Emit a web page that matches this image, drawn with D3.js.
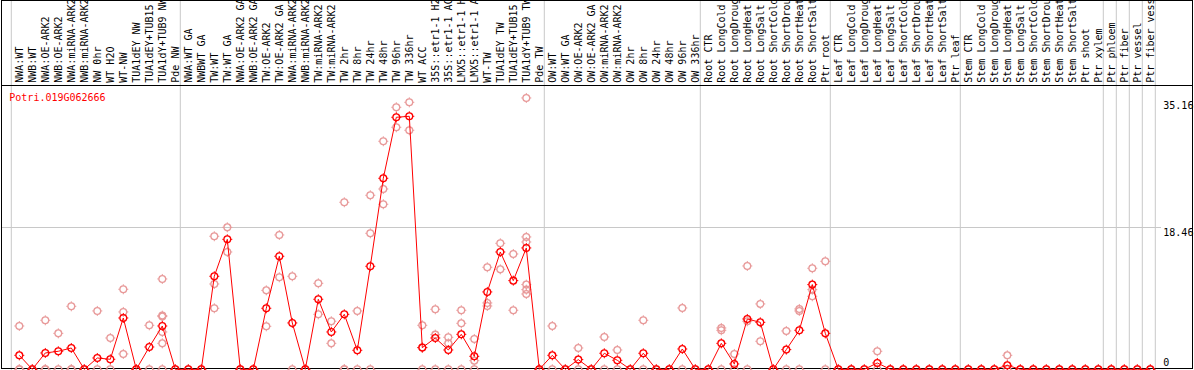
<!DOCTYPE html>
<html>
<head>
<meta charset="utf-8">
<script src="https://cdn.jsdelivr.net/npm/d3@7"></script>
<style>
  body { margin: 0; background: #fff; }
  svg { display: block; }
</style>
</head>
<body>
<div id="chart"></div>
<script>
const gene = "Potri.019G062666";

const labels = [
  "NWA:WT", "NWB:WT", "NWA:OE-ARK2", "NWB:OE-ARK2", "NWA:miRNA-ARK2", "NWB:miRNA-ARK2",
  "NW 0hr", "WT H2O", "WT-NW", "TUA1dEY NW", "TUA1dEY+TUB15 NW", "TUA1dY+TUB9 NW", "Pde NW",
  "NWA:WT GA", "NWBWT GA", "TW:WT", "TW:WT GA", "NWA:OE-ARK2 GA", "NWB:OE-ARK2 GA",
  "TW:OE-ARK2", "TW:OE-ARK2 GA", "NWA:miRNA-ARK2 GA", "NWB:miRNA-ARK2 GA", "TW:miRNA-ARK2",
  "TW:miRNA-ARK2 GA", "TW 2hr", "TW 8hr", "TW 24hr", "TW 48hr", "TW 96hr", "TW 336hr",
  "WT ACC", "35S::etr1-1 H2O", "35S::etr1-1 ACC", "LMX5::etr1-1 H2O", "LMX5::etr1-1 ACC",
  "WT-TW", "TUA1dEY TW", "TUA1dEY+TUB15 TW", "TUA1dY+TUB9 TW", "Pde TW",
  "OW:WT", "OW:WT GA", "OW:OE-ARK2", "OW:OE-ARK2 GA", "OW:miRNA-ARK2", "OW:miRNA-ARK2 GA",
  "OW 2hr", "OW 8hr", "OW 24hr", "OW 48hr", "OW 96hr", "OW 336hr",
  "Root CTR", "Root LongCold", "Root LongDrought", "Root LongHeat", "Root LongSalt",
  "Root ShortCold", "Root ShortDrought", "Root ShortHeat", "Root ShortSalt", "Ptr root",
  "Leaf CTR", "Leaf LongCold", "Leaf LongDrought", "Leaf LongHeat", "Leaf LongSalt",
  "Leaf ShortCold", "Leaf ShortDrought", "Leaf ShortHeat", "Leaf ShortSalt", "Ptr leaf",
  "Stem CTR", "Stem LongCold", "Stem LongDrought", "Stem LongHeat", "Stem LongSalt",
  "Stem ShortCold", "Stem ShortDrought", "Stem ShortHeat", "Stem ShortSalt", "Ptr shoot",
  "Ptr xylem", "Ptr phloem", "Ptr fiber", "Ptr vessel", "Ptr fiber vessel"
];

// number of samples in each experiment block (separated by grey lines)
const groupSizes = [13, 28, 12, 10, 10, 11, 1, 1, 1, 1];

const means = [
  1.83, 0, 2.14, 2.36, 2.79, 0, 1.48, 1.31, 6.72, 0, 2.92, 5.67, 0,
  0, 0, 12.18, 17.02, 0, 0, 7.99, 14.80, 6.07, 0, 9.17, 4.89, 7.20, 2.49, 13.49, 25.01,
  33.0, 33.13, 2.84, 4.10, 2.53, 4.58, 1.70, 10.13, 15.36, 11.61, 15.89, 0,
  1.83, 0, 1.27, 0, 2.10, 1.18, 0, 2.10, 0, 0, 2.66, 0,
  0, 3.40, 0.70, 6.59, 6.15, 0, 2.58, 5.11, 11.09, 4.71,
  0, 0, 0, 0.83, 0, 0, 0, 0, 0, 0,
  0, 0, 0, 0.52, 0, 0, 0, 0, 0, 0, 0,
  0, 0, 0, 0
];

const replicates = [
  [5.67, 0, 0], [0, 0], [6.42, 0, 0], [4.71, 0], [8.25, 0, 0], [0, 0], [7.64, 0], [4.10, 0],
  [10.48, 7.51, 2.01], [0, 0], [5.76, 0], [11.83, 7.03, 6.90, 4.89, 3.40, 0], [0],
  [0], [0], [17.42, 11.17, 7.99], [18.59, 15.36], [0], [0], [10.34, 5.63], [17.59, 12.05],
  [12.18, 0], [0], [11.26, 7.20], [6.29, 3.40], [21.87, 0, 0], [7.64, 0], [22.79, 17.81, 0],
  [29.86, 23.61, 21.61], [34.31, 31.69], [34.96, 31.30], [5.76, 2.84, 0], [7.86, 4.54, 0],
  [4.19, 3.40, 0], [7.73, 6.02, 0], [3.97, 1.13, 0], [13.36, 8.69, 8.29], [16.50, 13.09],
  [15.10, 7.73], [35.53, 17.33, 16.67, 11.09, 10.43, 9.86], [0],
  [5.67, 0], [0], [2.79, 0], [0], [4.23, 0], [2.53, 0], [0], [6.42, 0], [0], [0], [8.03, 0], [0],
  [0], [5.41, 5.11, 0], [2.01, 0], [13.53, 6.29, 0], [8.56, 3.67], [0], [5.02, 0],
  [7.90, 7.64, 0], [13.23, 10.43, 9.56], [14.14, 0],
  [0], [0], [0], [2.36, 0], [0], [0], [0], [0], [0], [0],
  [0], [0], [0], [1.83, 0], [0], [0], [0], [0], [0], [0], [0],
  [0], [0], [0], [0]
];

const yTicks = [0, 18.46, 35.16];
const gridTicks = [18.46];

const w = 1194;
const h = 370;
const labelBottom = 85;

const svg = d3.select("#chart")
  .append("svg")
  .attr("width", w)
  .attr("height", h)
  .style("font-family", "'DejaVu Sans Mono', monospace")
  .style("font-size", "10px");

const xBand = d3.scaleBand()
  .domain(d3.range(labels.length))
  .range([11.3, 11.3 + labels.length * 13])
  .paddingInner(0)
  .paddingOuter(0);
const cx = i => xBand(i) + 8;

const yScale = d3.scaleLinear()
  .domain([0, 37.2])
  .range([369.3, 85.2]);

// block separators
let edges = [0];
groupSizes.forEach(s => edges.push(edges[edges.length - 1] + s));
svg.append("g")
  .selectAll("line")
  .data(edges)
  .enter()
  .append("line")
  .attr("x1", d => (d < labels.length ? xBand(d) : xBand(labels.length - 1) + 13))
  .attr("x2", d => (d < labels.length ? xBand(d) : xBand(labels.length - 1) + 13))
  .attr("y1", 0)
  .attr("y2", h)
  .attr("stroke", "#c8c8c8")
  .attr("stroke-width", 1);

// horizontal grid
svg.append("g")
  .selectAll("line")
  .data(gridTicks)
  .enter()
  .append("line")
  .attr("x1", 1)
  .attr("x2", 1161)
  .attr("y1", d => Math.round(yScale(d)) - 0.5)
  .attr("y2", d => Math.round(yScale(d)) - 0.5)
  .attr("stroke", "#c8c8c8")
  .attr("stroke-width", 1);

// frame
svg.append("rect")
  .attr("x", 1.5)
  .attr("y", 0.5)
  .attr("width", 1191)
  .attr("height", 368)
  .attr("fill", "none")
  .attr("stroke", "#000")
  .attr("stroke-width", 1);
svg.append("line")
  .attr("x1", 1).attr("x2", 1193)
  .attr("y1", labelBottom + 0.5).attr("y2", labelBottom + 0.5)
  .attr("stroke", "#000");

// sample labels
svg.append("g")
  .selectAll("text")
  .data(labels)
  .enter()
  .append("text")
  .attr("transform", (d, i) => "translate(" + (cx(i) + 3.5) + "," + 82.7 + ") rotate(-90)")
  .attr("fill", "#000")
  .text(d => d);

// y labels
svg.append("g")
  .selectAll("text")
  .data(yTicks)
  .enter()
  .append("text")
  .attr("x", 1163.3)
  .attr("y", d => Math.min(yScale(d) + 8, yScale(0) - 3))
  .attr("fill", "#000")
  .text(d => d);

svg.append("text")
  .attr("x", 9.3)
  .attr("y", 101)
  .attr("fill", "#ff0000")
  .text(gene);

function marker(g, color) {
  const r = 3.4;
  g.append("circle")
    .attr("r", r)
    .attr("fill", "none")
    .attr("stroke", color)
    .attr("stroke-width", 1.3);
  [[0, -1], [0, 1], [-1, 0], [1, 0]].forEach(([dx, dy]) => {
    g.append("line")
      .attr("x1", dx * r).attr("y1", dy * r)
      .attr("x2", dx * (r + 1.6)).attr("y2", dy * (r + 1.6))
      .attr("stroke", color)
      .attr("stroke-width", 1);
  });
}

// replicate points
const repPoints = [];
replicates.forEach((arr, i) => arr.forEach(v => repPoints.push({ i: i, v: v })));
svg.append("g")
  .selectAll("g")
  .data(repPoints)
  .enter()
  .append("g")
  .attr("transform", d => "translate(" + cx(d.i) + "," + yScale(d.v) + ")")
  .each(function () { marker(d3.select(this), "#e89a9a"); });

// mean line
const line = d3.line()
  .x((d, i) => cx(i))
  .y(d => yScale(d));
svg.append("path")
  .datum(means)
  .attr("d", line)
  .attr("fill", "none")
  .attr("stroke", "#ff0000")
  .attr("stroke-width", 1);

svg.append("g")
  .selectAll("g")
  .data(means)
  .enter()
  .append("g")
  .attr("transform", (d, i) => "translate(" + cx(i) + "," + yScale(d) + ")")
  .each(function () { marker(d3.select(this), "#ff0000"); });
</script>
</body>
</html>
